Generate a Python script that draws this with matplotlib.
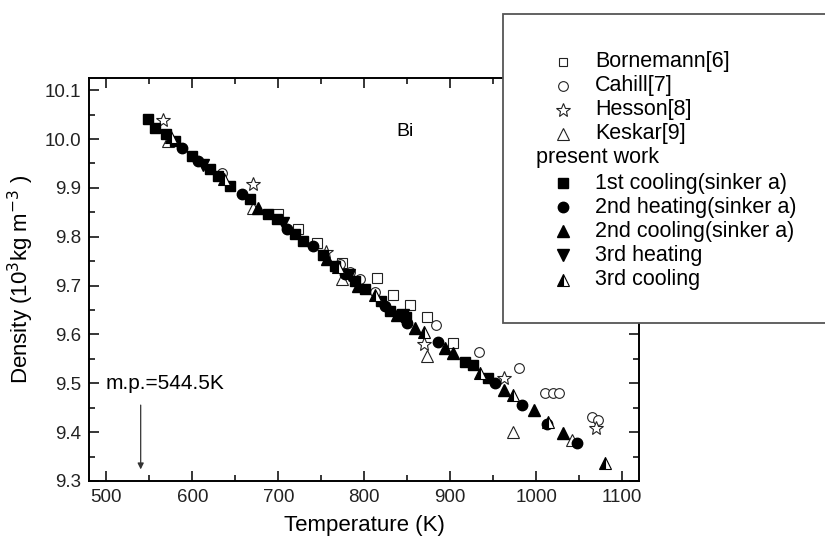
#Densidad del bismuto liquido vs temperatura
import matplotlib.pyplot as plt
from matplotlib.lines import Line2D
from matplotlib.patches import Rectangle
from matplotlib.ticker import MultipleLocator

plt.rcParams['font.family'] = ['Liberation Sans', 'DejaVu Sans']

##Datos
# Literatura
born_t = [700, 723, 745, 774, 815, 834, 853, 873, 903]
born_d = [9.847, 9.816, 9.788, 9.747, 9.716, 9.680, 9.661, 9.635, 9.582]

cahill_t = [635, 772, 784, 795, 813, 884, 933, 980, 1010, 1019, 1027, 1065, 1072]
cahill_d = [9.930, 9.745, 9.727, 9.714, 9.686, 9.620, 9.565, 9.531, 9.480, 9.480, 9.480, 9.431, 9.424]

hesson_t = [566, 671, 755, 869, 962, 1069]
hesson_d = [10.039, 9.908, 9.769, 9.580, 9.510, 9.408]

keskar_t = [572, 671, 774, 873, 973, 1042]
keskar_d = [9.996, 9.859, 9.714, 9.555, 9.400, 9.384]

# Este trabajo
c1_t = [548, 557, 569, 580, 600, 621, 630, 644, 667, 688, 699, 720, 729, 752,
        766, 789, 801, 819, 830, 848, 917, 926, 944]
c1_d = [10.041, 10.022, 10.010, 9.996, 9.965, 9.939, 9.924, 9.904, 9.878, 9.847,
        9.837, 9.806, 9.792, 9.762, 9.741, 9.710, 9.694, 9.669, 9.649, 9.635,
        9.543, 9.537, 9.510]

h2_t = [588, 607, 658, 710, 740, 778, 824, 850, 886, 952, 984, 1013, 1048]
h2_d = [9.982, 9.955, 9.888, 9.816, 9.782, 9.724, 9.659, 9.624, 9.584, 9.500,
        9.455, 9.417, 9.378]

c2_t = [676, 757, 793, 838, 859, 894, 903, 962, 997, 1031]
c2_d = [9.859, 9.755, 9.700, 9.639, 9.614, 9.573, 9.563, 9.486, 9.445, 9.398]

h3_t = [613, 705, 782, 845]
h3_d = [9.947, 9.828, 9.722, 9.640]

c3_t = [575, 637, 769, 812, 869, 935, 973, 1014, 1080]
c3_d = [10.004, 9.918, 9.738, 9.680, 9.604, 9.522, 9.476, 9.420, 9.337]


##Figura
fig = plt.figure(figsize=(8.25, 5.38), dpi=100)
ax = fig.add_axes([0.108, 0.106, 0.667, 0.749])

ms = 7
ec = '#222222'
ax.plot(born_t, born_d, 's', ms=ms - 0.5, mfc='white', mec=ec, mew=0.8)
ax.plot(cahill_t, cahill_d, 'o', ms=ms, mfc='white', mec=ec, mew=0.8)
ax.plot(hesson_t, hesson_d, '*', ms=ms + 3, mfc='white', mec=ec, mew=0.8)
ax.plot(keskar_t, keskar_d, '^', ms=ms + 1, mfc='white', mec=ec, mew=0.8)

ax.plot(c1_t, c1_d, 's', ms=ms, color='black')
ax.plot(h2_t, h2_d, 'o', ms=ms + 0.5, color='black')
ax.plot(c2_t, c2_d, '^', ms=ms + 1, color='black')
ax.plot(h3_t, h3_d, 'v', ms=ms + 1, color='black')
ax.plot(c3_t, c3_d, '^', ms=ms + 1, color='black', mec='black',
        fillstyle='left', markerfacecoloralt='white', mew=0.8)

ax.set_xlim(480, 1120)
ax.set_ylim(9.3, 10.125)
ax.xaxis.set_major_locator(MultipleLocator(100))
ax.xaxis.set_minor_locator(MultipleLocator(50))
ax.yaxis.set_major_locator(MultipleLocator(0.1))
ax.yaxis.set_minor_locator(MultipleLocator(0.05))
ax.tick_params(which='both', direction='in', top=True, right=True,
               labelsize=13.5, width=1.1, colors='black')
ax.tick_params(which='major', length=7, pad=6)
ax.tick_params(which='minor', length=4)
ax.set_yticks([9.3, 9.4, 9.5, 9.6, 9.7, 9.8, 9.9, 10.0, 10.1])
ax.set_yticklabels(['9.3', '9.4', '9.5', '9.6', '9.7', '9.8', '9.9', '10.0', '10.1'])
for lab in ax.get_xticklabels() + ax.get_yticklabels():
    lab.set_color('#222222')
for s in ax.spines.values():
    s.set_linewidth(1.4)

ax.set_xlabel('Temperature (K)', fontsize=16, labelpad=6)
ax.set_ylabel('Density (10$^{3}$kg m$^{-3}$ )', fontsize=16, labelpad=6)

ax.text(848, 10.016, 'Bi', fontsize=14, ha='center', va='center')
ax.text(499, 9.5, 'm.p.=544.5K', fontsize=15, ha='left', va='center')
ax.annotate('', xy=(540, 9.318), xytext=(540, 9.461),
            arrowprops=dict(arrowstyle='-|>', color='#333333', lw=0.9,
                            mutation_scale=9))

##Leyenda (caja manual)
box = Rectangle((503 / 825, 1 - 323 / 538), 0.5, (323 - 14) / 538,
                transform=fig.transFigure, facecolor='white',
                edgecolor='#555555', linewidth=1.3, zorder=5)
fig.add_artist(box)

def fy(py):
    return 1 - py / 538

mx = 563 / 825
tx = 595 / 825
entries = [
    (62, dict(marker='s', ms=6, mfc='white', mec=ec, mew=0.8), 'Bornemann[6]'),
    (86, dict(marker='o', ms=7, mfc='white', mec=ec, mew=0.8), 'Cahill[7]'),
    (110, dict(marker='*', ms=10, mfc='white', mec=ec, mew=0.8), 'Hesson[8]'),
    (134, dict(marker='^', ms=8, mfc='white', mec=ec, mew=0.8), 'Keskar[9]'),
    (183, dict(marker='s', ms=7, color='black'), '1st cooling(sinker a)'),
    (207, dict(marker='o', ms=7.5, color='black'), '2nd heating(sinker a)'),
    (231, dict(marker='^', ms=8, color='black'), '2nd cooling(sinker a)'),
    (255, dict(marker='v', ms=8, color='black'), '3rd heating'),
    (280, dict(marker='^', ms=8, color='black', fillstyle='left',
               markerfacecoloralt='white', mew=0.8), '3rd cooling'),
]
for py, kw, lab in entries:
    fig.add_artist(Line2D([mx], [fy(py)], transform=fig.transFigure,
                          linestyle='none', zorder=6, **kw))
    fig.text(tx, fy(py), lab, fontsize=15.5, va='center', ha='left', zorder=6)
fig.text(536 / 825, fy(158), 'present work', fontsize=15.5, va='center',
         ha='left', zorder=6)

#Salvar
plt.savefig('out.png', dpi=100)
